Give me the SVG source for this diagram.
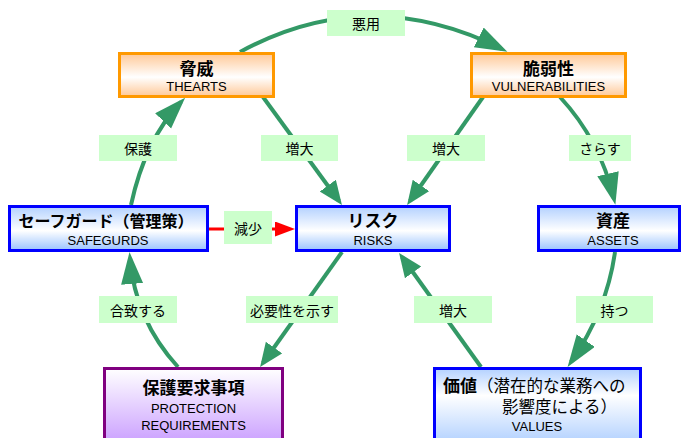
<svg xmlns="http://www.w3.org/2000/svg" width="682" height="438" viewBox="0 0 682 438">
<defs>
<style>
text{font-family:"Liberation Sans","Noto Sans CJK JP",sans-serif;fill:#000;text-anchor:middle}
.t{font-family:"Noto Sans CJK JP",sans-serif;font-weight:bold;font-size:17px}
.s{font-size:13px}
.j{font-family:"Noto Sans CJK JP",sans-serif;font-size:16.5px;font-weight:normal}
.lb rect{fill:#CCFFCC}
.lb text{font-family:"Noto Sans CJK JP",sans-serif;font-size:14px;dominant-baseline:central}
.c{fill:none;stroke:#339966;stroke-width:4}
.cl{marker-end:url(#al)}
.cs{marker-end:url(#as)}
.org{fill:url(#gO);stroke:#FF9900;stroke-width:3}
.blu{fill:url(#gB);stroke:#0000FF;stroke-width:3}
.blu2{fill:url(#gB2);stroke:#0000FF;stroke-width:3}
.pur{fill:url(#gP);stroke:#800080;stroke-width:3}
</style>
<linearGradient id="gO" x1="0" y1="0" x2="0" y2="1"><stop offset="0" stop-color="#FFC896"/><stop offset="0.55" stop-color="#FFFFFF"/><stop offset="1" stop-color="#FFC896"/></linearGradient>
<linearGradient id="gB" x1="0" y1="0" x2="0" y2="1"><stop offset="0" stop-color="#B3D1FF"/><stop offset="0.55" stop-color="#FFFFFF"/><stop offset="1" stop-color="#99C2FF"/></linearGradient>
<linearGradient id="gB2" x1="0" y1="0" x2="0" y2="1"><stop offset="0" stop-color="#B3D1FF"/><stop offset="0.3" stop-color="#FFFFFF"/><stop offset="1" stop-color="#99C2FF"/></linearGradient>
<linearGradient id="gP" x1="0" y1="0" x2="0" y2="1"><stop offset="0" stop-color="#FFFFFF"/><stop offset="1" stop-color="#C08CFF"/></linearGradient>
<marker id="al" markerUnits="userSpaceOnUse" markerWidth="34" markerHeight="24" refX="26" refY="11" orient="auto"><path d="M0,0 L32,11 L0,22 z" fill="#339966"/></marker>
<marker id="as" markerUnits="userSpaceOnUse" markerWidth="26" markerHeight="22" refX="19" refY="10" orient="auto"><path d="M0,0 L24,10 L0,20 z" fill="#339966"/></marker>
<marker id="ar" markerUnits="userSpaceOnUse" markerWidth="22" markerHeight="16" refX="2" refY="7.5" orient="auto"><path d="M0,0 L20,7.5 L0,15 z" fill="#FF0000"/></marker>
</defs>

<g id="connectors">
<path class="c cl" d="M240,52 Q368,-18 502,49"/>
<path class="c cs" d="M263,97 L339,201"/>
<path class="c cs" d="M483,97 L410,201"/>
<path class="c cl" d="M560,97 Q600,140 614,199"/>
<path class="c cl" d="M131,205 Q145,140 181,102"/>
<path class="c cl" d="M178,367 Q135,320 130,258"/>
<path class="c cs" d="M342,252 L263,363"/>
<path class="c cs" d="M481,367 L402,257"/>
<path class="c cl" d="M615,252 Q607,310 571,362"/>
<path d="M208,229 L277,229" fill="none" stroke="#FF0000" stroke-width="3" marker-end="url(#ar)"/>
</g>

<g id="connector-labels" class="lb">
<g><rect x="327" y="10" width="78" height="26"/><text x="366" y="23">悪用</text></g>
<g><rect x="99" y="135" width="78" height="26"/><text x="138" y="148">保護</text></g>
<g><rect x="261" y="135" width="77" height="26"/><text x="299.5" y="148">増大</text></g>
<g><rect x="407" y="135" width="78" height="26"/><text x="446" y="148">増大</text></g>
<g><rect x="569" y="135" width="62" height="26"/><text x="600" y="148">さらす</text></g>
<g><rect x="224" y="211" width="48" height="33"/><text x="248" y="227.5">減少</text></g>
<g><rect x="99" y="296" width="78" height="27"/><text x="138" y="309.5">合致する</text></g>
<g><rect x="246" y="296" width="92" height="27"/><text x="292" y="309.5">必要性を示す</text></g>
<g><rect x="414" y="296" width="78" height="27"/><text x="453" y="309.5">増大</text></g>
<g><rect x="576" y="296" width="77" height="27"/><text x="614.5" y="309.5">持つ</text></g>
</g>

<g id="threats">
<rect class="org" x="119.5" y="53.5" width="154" height="43"/>
<text class="t" x="196.5" y="75">脅威</text>
<text class="s" x="196.5" y="91">THEARTS</text>
</g>

<g id="vulnerabilities">
<rect class="org" x="471.5" y="53.5" width="154" height="43"/>
<text class="t" x="548.5" y="75">脆弱性</text>
<text class="s" x="548.5" y="91">VULNERABILITIES</text>
</g>

<g id="safeguards">
<rect class="blu" x="9.5" y="206.5" width="198" height="44"/>
<text class="t" x="106" y="227" style="font-size:16px">セーフガード（管理策）</text>
<text class="s" x="108" y="245">SAFEGURDS</text>
</g>

<g id="risks">
<rect class="blu" x="296.5" y="206.5" width="153" height="44"/>
<text class="t" x="373" y="227">リスク</text>
<text class="s" x="373" y="245">RISKS</text>
</g>

<g id="assets">
<rect class="blu" x="538.5" y="206.5" width="141" height="44"/>
<text class="t" x="613" y="227">資産</text>
<text class="s" x="613" y="245">ASSETS</text>
</g>

<g id="protection-requirements">
<rect class="pur" x="104.5" y="368.5" width="178" height="90"/>
<text class="t" x="193.5" y="394">保護要求事項</text>
<text class="s" x="193.5" y="413">PROTECTION</text>
<text class="s" x="193.5" y="430">REQUIREMENTS</text>
</g>

<g id="values">
<rect class="blu2" x="434.5" y="368.5" width="206" height="90"/>
<text x="443" y="392" style="text-anchor:start"><tspan class="t">価値</tspan><tspan class="j">（潜在的な業務への</tspan><tspan class="j" x="502" y="413">影響度による）</tspan></text>
<text class="s" x="537" y="431">VALUES</text>
</g>
</svg>
